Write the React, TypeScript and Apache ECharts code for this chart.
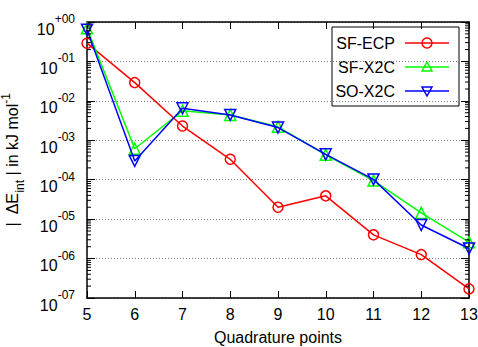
import React, { useEffect, useRef } from "react";
import * as echarts from "echarts";

const xValues = [5, 6, 7, 8, 9, 10, 11, 12, 13];
const sfEcp = [0.29, 0.029, 0.0023, 3.3e-4, 2.0e-5, 3.9e-5, 4.0e-6, 1.26e-6, 1.7e-7];
const sfX2c = [0.69, 6.1e-4, 0.0056, 0.0044, 0.0022, 4.3e-4, 9.5e-5, 1.44e-5, 2.6e-6];
const soX2c = [0.64, 3.0e-4, 0.0065, 0.0044, 0.0021, 4.4e-4, 1.02e-4, 7.1e-6, 1.8e-6];
const seriesNames = ["SF-ECP", "SF-X2C", "SO-X2C"];
const colors = ["#ff0000", "#00ff00", "#0000ff"];
const yMinExp = -7;
const yMaxExp = 0;

const FONT = "'Liberation Sans', Arial, Helvetica, sans-serif";

function minorTickValues(): number[][] {
  const out: number[][] = [];
  for (let e = yMinExp; e < yMaxExp; e++) {
    for (let k = 2; k <= 9; k++) out.push([xValues[0], k * Math.pow(10, e)]);
  }
  return out;
}

function fmtExp(v: number): string {
  const e = Math.round(Math.log10(v));
  const s = (e >= 0 ? "+" : "-") + String(Math.abs(e)).padStart(2, "0");
  return `{b|10}{s|${s}}`;
}

export default function App() {
  const ref = useRef<HTMLDivElement>(null);
  useEffect(() => {
    if (!ref.current) return;
    const chart = echarts.init(ref.current, undefined, { renderer: "svg" });
    const pairs = (arr: number[]) => xValues.map((x, i) => [x, arr[i]]);
    const symbols = ["circle", "triangle", "triangle"];
    const rotates = [0, 0, 180];
    const sizes = [10, 11, 11];
    const datasets = [sfEcp, sfX2c, soX2c];

    const lineSeries = datasets.map((d, i) => ({
      type: "line",
      name: seriesNames[i],
      data: pairs(d),
      symbol: symbols[i],
      symbolRotate: rotates[i],
      symbolSize: sizes[i],
      showAllSymbol: true,
      z: 3 + i,
      lineStyle: { color: colors[i], width: 1.5 },
      itemStyle: { color: "rgba(0,0,0,0)", borderColor: colors[i], borderWidth: 1.5 },
      emphasis: { disabled: true },
      silent: true,
    }));

    const minorSeries = {
      type: "custom",
      silent: true,
      z: 10,
      data: minorTickValues(),
      renderItem: (params: any, api: any) => {
        const p = api.coord([api.value(0), api.value(1)]);
        const cs = params.coordSys;
        return {
          type: "group",
          children: [
            { type: "line", shape: { x1: cs.x, y1: p[1], x2: cs.x + 4, y2: p[1] }, style: { stroke: "#000", lineWidth: 1 } },
            { type: "line", shape: { x1: cs.x + cs.width, y1: p[1], x2: cs.x + cs.width - 4, y2: p[1] }, style: { stroke: "#000", lineWidth: 1 } },
          ],
        };
      },
    };

    const legendX = 332, legendY = 27, rowYs = [43, 67, 91];
    const legendChildren: any[] = [
      { type: "rect", shape: { x: legendX, y: legendY, width: 127, height: 79 }, style: { fill: "#fff", stroke: "#000", lineWidth: 1 } },
    ];
    seriesNames.forEach((n, i) => {
      const y = rowYs[i];
      legendChildren.push({ type: "text", style: { text: n, x: 395, y, align: "right", verticalAlign: "middle", font: `16px ${FONT}`, fill: "#000" } });
      legendChildren.push({ type: "line", shape: { x1: 405, y1: y, x2: 449, y2: y }, style: { stroke: colors[i], lineWidth: 1.5 } });
      const cx = 427;
      if (i === 0) {
        legendChildren.push({ type: "circle", shape: { cx, cy: y, r: 5 }, style: { fill: "none", stroke: colors[i], lineWidth: 1.5 } });
      } else if (i === 1) {
        legendChildren.push({ type: "polygon", shape: { points: [[cx, y - 5], [cx + 5, y + 4], [cx - 5, y + 4]] }, style: { fill: "none", stroke: colors[i], lineWidth: 1.5 } });
      } else {
        legendChildren.push({ type: "polygon", shape: { points: [[cx, y + 5], [cx + 5, y - 4], [cx - 5, y - 4]] }, style: { fill: "none", stroke: colors[i], lineWidth: 1.5 } });
      }
    });

    chart.setOption({
      animation: false,
      backgroundColor: "#fff",
      textStyle: { fontFamily: FONT },
      grid: { left: 87, right: 9, top: 22, bottom: 49, containLabel: false, outerBoundsMode: "none" },
      xAxis: [
        {
          type: "value",
          min: 5,
          max: 13,
          interval: 1,
          position: "bottom",
          name: "Quadrature points",
          nameLocation: "middle",
          nameGap: 31,
          nameTextStyle: { fontSize: 16, color: "#000", fontFamily: FONT },
          axisLine: { show: true, lineStyle: { color: "#000", width: 1.5 } },
          axisTick: { show: true, inside: true, length: 7, lineStyle: { color: "#000", width: 1 } },
          axisLabel: { fontSize: 16, color: "#000", margin: 8, fontFamily: FONT },
          splitLine: { show: false },
        },
        {
          type: "value",
          min: 5,
          max: 13,
          interval: 1,
          position: "top",
          axisLine: { show: true, lineStyle: { color: "#000", width: 1.5 } },
          axisTick: { show: true, inside: true, length: 7, lineStyle: { color: "#000", width: 1 } },
          axisLabel: { show: false },
          splitLine: { show: false },
        },
      ],
      yAxis: [
        {
          type: "log",
          logBase: 10,
          min: Math.pow(10, yMinExp),
          max: Math.pow(10, yMaxExp),
          position: "left",
          name: "|  ΔE{sub|int} | in kJ mol{sup|-1}",
          nameLocation: "middle",
          nameGap: 56,
          nameTextStyle: {
            fontSize: 16,
            color: "#000",
            fontFamily: FONT,
            rich: {
              sub: { fontSize: 12, lineHeight: 10, verticalAlign: "bottom", fontFamily: FONT, color: "#000" },
              sup: { fontSize: 12, lineHeight: 10, verticalAlign: "top", fontFamily: FONT, color: "#000" },
            },
            lineHeight: 26,
          },
          axisLine: { show: true, lineStyle: { color: "#000", width: 1.5 } },
          axisTick: { show: true, inside: true, length: 8, lineStyle: { color: "#000", width: 1 } },
          axisLabel: {
            formatter: fmtExp,
            margin: 12,
            padding: [6, 0, 0, 0],
            rich: {
              b: { fontSize: 16, lineHeight: 24, verticalAlign: "bottom", color: "#000", fontFamily: FONT },
              s: { fontSize: 12, lineHeight: 10, verticalAlign: "top", color: "#000", fontFamily: FONT },
            },
          },
          splitLine: { show: true, lineStyle: { color: "#808080", type: [1, 2], width: 1 } },
        },
        {
          type: "log",
          logBase: 10,
          min: Math.pow(10, yMinExp),
          max: Math.pow(10, yMaxExp),
          position: "right",
          axisLine: { show: true, lineStyle: { color: "#000", width: 1.5 } },
          axisTick: { show: true, inside: true, length: 8, lineStyle: { color: "#000", width: 1 } },
          axisLabel: { show: false },
          splitLine: { show: false },
        },
      ],
      series: [...lineSeries, minorSeries],
      graphic: [{ type: "group", z: 100, children: legendChildren }],
    });
    return () => chart.dispose();
  }, []);
  return <div ref={ref} style={{ width: 478, height: 347, position: "absolute", left: 0, top: 0 }} />;
}
